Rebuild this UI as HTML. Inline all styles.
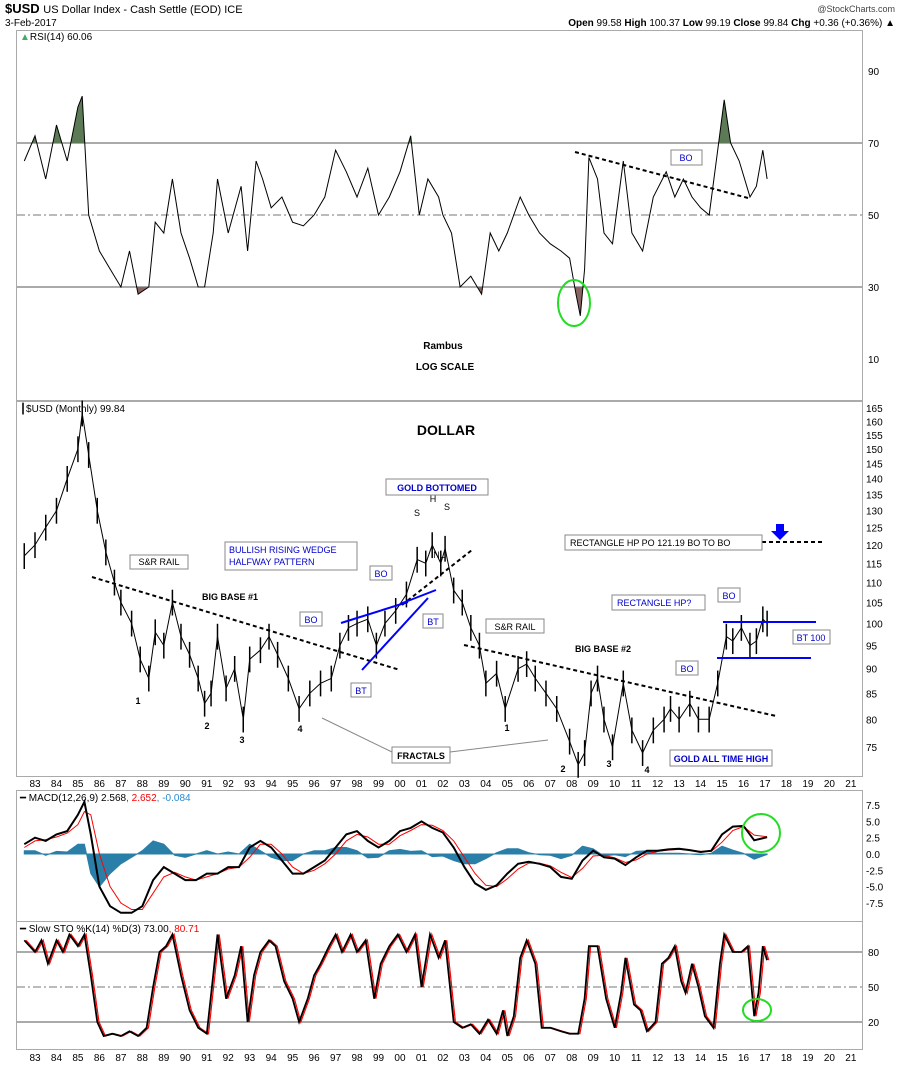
<!DOCTYPE html>
<html><head><meta charset="utf-8"><title>$USD chart</title>
<style>
body{margin:0;background:#fff;font-family:"Liberation Sans",sans-serif;}
svg{display:block}
text{font-family:"Liberation Sans",sans-serif}
</style></head>
<body>
<svg id="chart" width="900" height="1069" viewBox="0 0 900 1069" xmlns="http://www.w3.org/2000/svg">
<rect x="0" y="0" width="900" height="1069" fill="#fff"/>
<g id="hdr">
<text x="5" y="13" font-size="13" font-weight="bold">$USD <tspan font-size="11" font-weight="normal">US Dollar Index - Cash Settle (EOD) ICE</tspan></text>
<text x="5" y="26" font-size="10">3-Feb-2017</text>
<text x="895" y="12" font-size="9" text-anchor="end" fill="#444">@StockCharts.com</text>
<text x="895" y="26" font-size="10" text-anchor="end"><tspan font-weight="bold">Open</tspan> 99.58 <tspan font-weight="bold">High</tspan> 100.37 <tspan font-weight="bold">Low</tspan> 99.19 <tspan font-weight="bold">Close</tspan> 99.84 <tspan font-weight="bold">Chg</tspan> +0.36 (+0.36%) ▲</text>
</g>
<g id="frames" fill="none" stroke="#aaa" stroke-width="1">
<rect x="16.5" y="30.5" width="846" height="370"/>
<rect x="16.5" y="401.5" width="846" height="375"/>
<rect x="16.5" y="790.5" width="846" height="131"/>
<rect x="16.5" y="921.5" width="846" height="128"/>
</g>
<g id="grid"></g>
<g id="axes"></g>
<g id="series"></g>
<g id="labels">
<text x="20" y="40" font-size="10"><tspan fill="#4a6">▲</tspan>RSI(14) 60.06</text>
<text x="20" y="412" font-size="10"><tspan fill="#000">┃</tspan>$USD (Monthly) 99.84</text>
<text x="20" y="801" font-size="10">━ MACD(12,26,9) 2.568<tspan fill="red">, 2.652</tspan><tspan fill="#2a8ad0">, -0.084</tspan></text>
<text x="20" y="932" font-size="10">━ Slow STO %K(14) %D(3) 73.00<tspan fill="red">, 80.71</tspan></text>
</g>
<g id="annot" font-size="9">
<text x="443" y="349" font-size="10" font-weight="bold" text-anchor="middle">Rambus</text>
<text x="445" y="370" font-size="10" font-weight="bold" text-anchor="middle">LOG SCALE</text>
<text x="446" y="435" font-size="14" font-weight="bold" text-anchor="middle">DOLLAR</text>
<ellipse cx="574" cy="303" rx="16" ry="23" fill="none" stroke="#2d2" stroke-width="2"/>
<line x1="575" y1="152" x2="748" y2="198" stroke="#000" stroke-width="2" stroke-dasharray="4,3"/>
<g><rect x="671" y="150" width="31" height="15" fill="#fff" stroke="#888"/><text x="686" y="161" text-anchor="middle" fill="#00c">BO</text></g>
<line x1="92" y1="577" x2="400" y2="670" stroke="#000" stroke-width="2" stroke-dasharray="4,3"/>
<line x1="464" y1="645" x2="776" y2="716" stroke="#000" stroke-width="2" stroke-dasharray="4,3"/>
<line x1="402" y1="605" x2="472" y2="550" stroke="#000" stroke-width="2" stroke-dasharray="4,3"/>
<line x1="762" y1="542" x2="822" y2="542" stroke="#000" stroke-width="2" stroke-dasharray="4,3"/>
<path d="M776,524 h8 v7 h5 l-9,9 l-9,-9 h5 z" fill="#00f"/>
<line x1="341" y1="623" x2="408" y2="602" stroke="#00f" stroke-width="2"/>
<line x1="362" y1="670" x2="428" y2="598" stroke="#00f" stroke-width="2"/>
<line x1="400" y1="604" x2="436" y2="590" stroke="#00f" stroke-width="2"/>
<line x1="723" y1="622" x2="816" y2="622" stroke="#00f" stroke-width="2"/>
<line x1="717" y1="658" x2="811" y2="658" stroke="#00f" stroke-width="2"/>
<g><rect x="130" y="555" width="58" height="14" fill="#fff" stroke="#888"/><text x="159" y="565" text-anchor="middle">S&amp;R RAIL</text></g>
<text x="202" y="600" font-weight="bold">BIG BASE #1</text>
<g><rect x="225" y="542" width="132" height="28" fill="#fff" stroke="#888"/><text x="229" y="553" fill="#00c">BULLISH RISING WEDGE</text><text x="229" y="565" fill="#00c">HALFWAY PATTERN</text></g>
<g><rect x="300" y="612" width="22" height="14" fill="#fff" stroke="#888"/><text x="311" y="623" text-anchor="middle" fill="#00c">BO</text></g>
<g><rect x="370" y="566" width="22" height="14" fill="#fff" stroke="#888"/><text x="381" y="577" text-anchor="middle" fill="#00c">BO</text></g>
<g><rect x="351" y="683" width="20" height="14" fill="#fff" stroke="#888"/><text x="361" y="694" text-anchor="middle" fill="#00c">BT</text></g>
<g><rect x="423" y="614" width="20" height="14" fill="#fff" stroke="#888"/><text x="433" y="625" text-anchor="middle" fill="#00c">BT</text></g>
<g><rect x="386" y="479" width="102" height="16" fill="#fff" stroke="#888"/><text x="437" y="491" text-anchor="middle" fill="#00c" font-weight="bold">GOLD BOTTOMED</text></g>
<text x="417" y="516" text-anchor="middle">S</text>
<text x="433" y="502" text-anchor="middle">H</text>
<text x="447" y="510" text-anchor="middle">S</text>
<text x="439" y="558" text-anchor="middle">NL</text>
<g><rect x="486" y="619" width="58" height="14" fill="#fff" stroke="#888"/><text x="515" y="630" text-anchor="middle">S&amp;R RAIL</text></g>
<text x="575" y="652" font-weight="bold">BIG BASE #2</text>
<g><rect x="565" y="535" width="197" height="15" fill="#fff" stroke="#888"/><text x="570" y="546">RECTANGLE HP PO 121.19 BO TO BO</text></g>
<g><rect x="612" y="595" width="93" height="15" fill="#fff" stroke="#888"/><text x="617" y="606" fill="#00c">RECTANGLE HP?</text></g>
<g><rect x="718" y="588" width="22" height="14" fill="#fff" stroke="#888"/><text x="729" y="599" text-anchor="middle" fill="#00c">BO</text></g>
<g><rect x="676" y="661" width="22" height="14" fill="#fff" stroke="#888"/><text x="687" y="672" text-anchor="middle" fill="#00c">BO</text></g>
<g><rect x="793" y="630" width="37" height="14" fill="#fff" stroke="#888"/><text x="811" y="641" text-anchor="middle" fill="#00c">BT 100</text></g>
<g><rect x="392" y="747" width="58" height="16" fill="#fff" stroke="#888"/><text x="421" y="759" text-anchor="middle" font-weight="bold">FRACTALS</text></g>
<line x1="322" y1="718" x2="392" y2="752" stroke="#888"/>
<line x1="450" y1="752" x2="548" y2="740" stroke="#888"/>
<g><rect x="670" y="750" width="102" height="16" fill="#fff" stroke="#888"/><text x="721" y="762" text-anchor="middle" fill="#00c" font-weight="bold">GOLD ALL TIME HIGH</text></g>
<g font-weight="bold" text-anchor="middle">
<text x="138" y="704">1</text><text x="207" y="729">2</text><text x="242" y="743">3</text><text x="300" y="732">4</text>
<text x="507" y="731">1</text><text x="563" y="772">2</text><text x="609" y="767">3</text><text x="647" y="773">4</text></g>
<circle cx="761" cy="833" r="19" fill="none" stroke="#2d2" stroke-width="2"/>
<ellipse cx="757" cy="1010" rx="14" ry="11" fill="none" stroke="#2d2" stroke-width="2"/>
</g>
</svg>
<script>
const priceT=[1982.5,1983,1983.5,1984,1984.5,1985,1985.2,1985.5,1985.9,1986.3,1986.7,1987,1987.5,1987.9,1988.3,1988.6,1989,1989.4,1989.8,1990.2,1990.6,1990.9,1991.2,1991.5,1991.9,1992.3,1992.7,1993,1993.5,1993.9,1994.3,1994.8,1995.3,1995.8,1996.3,1996.8,1997.2,1997.6,1998,1998.5,1998.9,1999.3,1999.8,2000.3,2000.8,2001.2,2001.5,2001.9,2002.1,2002.5,2002.9,2003.3,2003.7,2004,2004.5,2004.9,2005.5,2005.9,2006.3,2006.8,2007.3,2007.9,2008.3,2008.6,2008.9,2009.2,2009.5,2009.9,2010.4,2010.8,2011.3,2011.8,2012.3,2012.6,2013,2013.5,2013.9,2014.4,2014.8,2015.2,2015.5,2015.9,2016.3,2016.6,2016.9,2017.1];
const priceV=[117,120,125,130,140,150,163,148,130,118,110,105,100,92,88,98,95,105,97,93,88,83,85,97,86,90,80,92,94,97,93,88,82,85,87,88,95,99,100,101,95,100,103,107,116,115,120,115,119,108,105,99,95,87,89,82,90,91,88,85,82,76,72,74,85,88,80,75,87,78,74,78,80,82,80,83,80,80,87,97,96,99,95,96,101,100];
const rsiT=[1982.5,1983,1983.5,1984,1984.5,1985,1985.2,1985.5,1986,1986.5,1987,1987.4,1987.8,1988.3,1988.6,1989,1989.4,1989.8,1990.2,1990.6,1990.9,1991.3,1991.5,1992,1992.6,1992.9,1993.3,1993.6,1994,1994.5,1995,1995.5,1996,1996.5,1997,1997.5,1998,1998.5,1999,1999.5,2000,2000.5,2000.9,2001.3,2001.8,2002,2002.4,2002.8,2003.3,2003.8,2004.2,2004.6,2005,2005.6,2006,2006.5,2007,2007.5,2007.9,2008.2,2008.4,2008.6,2008.8,2009.2,2009.5,2009.9,2010.4,2010.8,2011.3,2011.8,2012.4,2012.8,2013.2,2013.6,2014,2014.4,2014.8,2015.1,2015.4,2015.8,2016.3,2016.6,2016.9,2017.1];
const rsiV=[65,72,60,75,65,80,83,50,40,35,30,40,28,30,48,45,60,45,38,30,30,45,60,45,58,40,65,60,52,55,48,47,50,55,68,62,55,63,50,55,62,72,50,60,55,50,45,30,33,28,45,40,45,55,50,45,42,40,38,28,22,35,66,60,45,42,65,45,40,55,62,55,60,55,52,50,68,82,70,65,55,58,68,60];
const macdT=[1982.5,1983,1983.5,1984,1984.5,1985,1985.3,1985.6,1986,1986.5,1987,1987.5,1988,1988.5,1989,1989.5,1990,1990.5,1991,1991.5,1992,1992.5,1993,1993.5,1994,1994.5,1995,1995.5,1996,1996.5,1997,1997.5,1998,1998.5,1999,1999.5,2000,2000.5,2001,2001.5,2002,2002.5,2003,2003.5,2004,2004.5,2005,2005.5,2006,2006.5,2007,2007.5,2008,2008.5,2009,2009.5,2010,2010.5,2011,2011.5,2012,2012.5,2013,2013.5,2014,2014.5,2015,2015.5,2016,2016.5,2017.1];
const macdV=[1.5,2.5,2,3,3.5,6,8,3,-5,-8,-9,-9,-8,-4,-2,-3,-4,-4,-3,-3,-2,-2,1,2,1,-1,-3,-3,-2,-1,1,3,3.5,2,1,2,3.5,4,5,4,3.3,1,-2,-4.5,-5.5,-4.8,-3,-1.5,-1.2,-1.5,-2,-3.5,-3.8,-1,0.5,-0.5,-0.7,-1.7,-0.5,0.5,0.5,0.7,0.8,0.6,0.3,0.5,3,4.2,4.3,2.1,2.57];
const signalV=[1,2,2.2,2.6,3.2,4.5,6.5,6,0,-5,-7.5,-8.5,-8.5,-6,-3.5,-2.8,-3.5,-4,-3.5,-3,-2.3,-2,-0.5,1.5,1.5,0,-2,-3,-2.5,-1.5,0,2,3,2.6,1.5,1.5,2.8,3.6,4.5,4.4,3.6,2,-0.5,-3,-4.8,-5,-3.8,-2.3,-1.4,-1.4,-1.8,-2.8,-3.6,-2.2,-0.3,-0.2,-0.6,-1.3,-0.9,0,0.4,0.6,0.7,0.6,0.4,0.4,1.8,3.6,4.2,2.9,2.65];
const stoT=[1982.5,1983,1983.3,1983.6,1984,1984.3,1984.6,1985,1985.3,1985.6,1985.9,1986.2,1986.6,1987,1987.4,1987.8,1988.2,1988.5,1988.8,1989.1,1989.4,1989.8,1990.2,1990.6,1991,1991.3,1991.5,1991.9,1992.3,1992.6,1992.9,1993.2,1993.5,1993.9,1994.2,1994.6,1995,1995.3,1995.7,1996,1996.3,1996.7,1997,1997.3,1997.7,1998,1998.4,1998.8,1999.1,1999.5,1999.9,2000.3,2000.7,2001,2001.4,2001.8,2002.1,2002.5,2002.9,2003.3,2003.7,2004.1,2004.5,2004.8,2005,2005.3,2005.6,2005.9,2006.3,2006.6,2007,2007.5,2007.9,2008.3,2008.6,2008.8,2009.2,2009.6,2010,2010.3,2010.5,2010.9,2011.2,2011.5,2011.9,2012.2,2012.5,2012.8,2013.1,2013.3,2013.6,2013.9,2014.2,2014.6,2014.9,2015.1,2015.5,2015.9,2016.2,2016.5,2016.7,2016.9,2017.1];
const stoK=[90,80,90,70,90,80,95,85,95,60,20,8,10,8,12,8,15,50,80,85,95,60,30,15,10,60,95,40,60,85,20,60,80,90,85,55,40,20,40,60,70,85,95,80,95,80,90,40,70,85,95,80,95,50,95,75,90,20,15,18,10,22,10,30,8,25,75,90,70,15,15,12,10,10,40,85,85,40,15,45,75,35,30,12,20,70,75,85,55,45,70,50,25,15,70,95,80,80,85,25,45,85,73];
const rsiTicks=[10,30,50,70,90];
const priceTicks=[75,80,85,90,95,100,105,110,115,120,125,130,135,140,145,150,155,160,165];
const macdTicks=[-7.5,-5,-2.5,0,2.5,5,7.5];
const stoTicks=[20,50,80];
const yearLabels=["83","84","85","86","87","88","89","90","91","92","93","94","95","96","97","98","99","00","01","02","03","04","05","06","07","08","09","10","11","12","13","14","15","16","17","18","19","20","21"];

const NS="http://www.w3.org/2000/svg";
const X=t=>35+21.47*(t-1983);
const yRsi=v=>359-(v-10)*3.6;
const yPrice=v=>545+(Math.log(120)-Math.log(v))*430;
const yMacd=v=>854-v*6.53;
const ySto=v=>987-(v-50)*1.167;
function mk(tag,attrs,parent){const e=document.createElementNS(NS,tag);for(const k in attrs)e.setAttribute(k,attrs[k]);parent.appendChild(e);return e;}
const grid=document.getElementById('grid'),axes=document.getElementById('axes'),ser=document.getElementById('series');

rsiTicks.forEach(v=>{
 const t=mk('text',{x:868,y:yRsi(v)+4,'font-size':10},axes);t.textContent=v;
 
 
 if(v===30||v===70){const l=mk('line',{x1:17,x2:862,y1:yRsi(v),y2:yRsi(v),stroke:'#555'},grid);
  
  }
 if(v===50){const l=mk('line',{x1:17,x2:862,y1:yRsi(v),y2:yRsi(v),stroke:'#777','stroke-dasharray':'8,3,2,3'},grid);
  
  }
});
priceTicks.forEach(v=>{
 const t=mk('text',{x:866,y:yPrice(v)+4,'font-size':10},axes);t.textContent=v;
 
 
});
macdTicks.forEach(v=>{
 const t=mk('text',{x:866,y:yMacd(v)+4,'font-size':10},axes);t.textContent=v.toFixed(1);
 
 
});
stoTicks.forEach(v=>{
 const t=mk('text',{x:868,y:ySto(v)+4,'font-size':10},axes);t.textContent=v;
 
 
 const l=mk('line',{x1:17,x2:862,y1:ySto(v),y2:ySto(v),stroke:v===50?'#777':'#555','stroke-dasharray':v===50?'8,3,2,3':'none'},grid);
 
 
});
yearLabels.forEach((s,i)=>{
 [787,1061].forEach(yy=>{
  const t=mk('text',{x:X(1983+i),y:yy,'font-size':10,'text-anchor':'middle'},axes);t.textContent=s;
  
  
 });
});
function pts(T,V,fy,dt){return T.map((t,i)=>X(t+(dt||0)).toFixed(1)+','+fy(V[i]).toFixed(1)).join(' ');}

const rsiLinePts=pts(rsiT,rsiV,yRsi);
const cp1=mk('clipPath',{id:'cAbove'},ser);mk('rect',{x:0,y:0,width:900,height:yRsi(70)},cp1);
const cp2=mk('clipPath',{id:'cBelow'},ser);mk('rect',{x:0,y:yRsi(30),width:900,height:120},cp2);
const fa=mk('polygon',{points:X(rsiT[0])+','+yRsi(70)+' '+rsiLinePts+' '+X(rsiT[rsiT.length-1])+','+yRsi(70),fill:'#5c7a55','clip-path':'url(#cAbove)'},ser);


const fb=mk('polygon',{points:X(rsiT[0])+','+yRsi(30)+' '+rsiLinePts+' '+X(rsiT[rsiT.length-1])+','+yRsi(30),fill:'#8a6460','clip-path':'url(#cBelow)'},ser);


const rl=mk('polyline',{points:rsiLinePts,fill:'none',stroke:'#000','stroke-width':1},ser);



priceT.forEach((t,i)=>{
 const v=priceV[i],x=X(t);
 const b=mk('line',{x1:x,x2:x,y1:yPrice(v*1.03),y2:yPrice(v*0.97),stroke:'#000','stroke-width':1.5},ser);
 
 
});
const pl=mk('polyline',{points:pts(priceT,priceV,yPrice),fill:'none',stroke:'#000','stroke-width':1},ser);



// MACD histogram as area
const histPts=macdT.map((t,i)=>X(t).toFixed(1)+','+yMacd(macdV[i]-signalV[i]).toFixed(1)).join(' ');
const ha=mk('polygon',{points:X(macdT[0])+','+yMacd(0)+' '+histPts+' '+X(macdT[macdT.length-1])+','+yMacd(0),fill:'#2a7fa8',stroke:'#2a7fa8','stroke-width':1},ser);


const ms=mk('polyline',{points:pts(macdT,signalV,yMacd),fill:'none',stroke:'red','stroke-width':1},ser);


const ml=mk('polyline',{points:pts(macdT,macdV,yMacd),fill:'none',stroke:'#000','stroke-width':2},ser);



const sd=mk('polyline',{points:pts(stoT,stoK,ySto,0.08),fill:'none',stroke:'red','stroke-width':1.2},ser);


const sk=mk('polyline',{points:pts(stoT,stoK,ySto),fill:'none',stroke:'#000','stroke-width':1.8},ser);


</script>
</body></html>
